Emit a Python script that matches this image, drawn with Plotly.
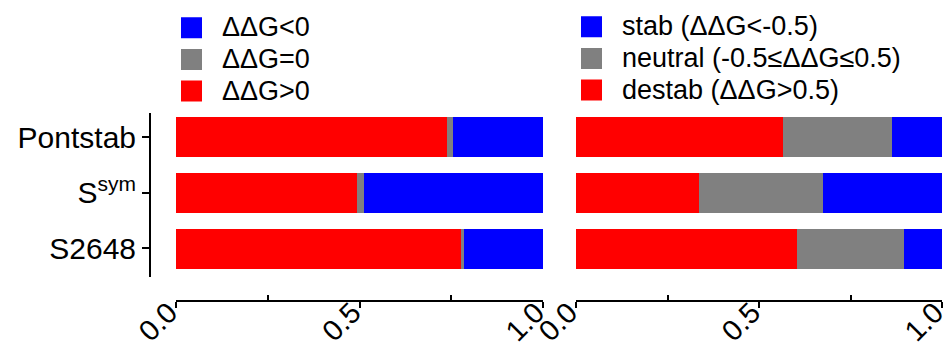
import plotly.graph_objects as go

# ---- data ----
categories = ["Pontstab", "S<sup>sym</sup>", "S2648"]
cat_pos = [0, 1, 2]

# left panel (sign of ddG)
left_pos = [0.738, 0.494, 0.777]    # ΔΔG>0
left_zero = [0.017, 0.017, 0.008]   # ΔΔG=0
left_neg = [0.245, 0.489, 0.215]    # ΔΔG<0

# right panel (0.5 threshold)
right_destab = [0.565, 0.335, 0.605]
right_neutral = [0.298, 0.340, 0.290]
right_stab = [0.137, 0.325, 0.105]

x_ticks = [0.0, 0.5, 1.0]
x_ticktext = ["0.0", "0.5", "1.0"]

left_names = ["ΔΔG<0", "ΔΔG=0", "ΔΔG>0"]
right_names = ["stab (ΔΔG<-0.5)", "neutral (-0.5≤ΔΔG≤0.5)", "destab (ΔΔG>0.5)"]

RED, GREY, BLUE = "#ff0000", "#808080", "#0000ff"
FONT = "Liberation Sans, Arial, sans-serif"
W, H = 948, 348
LEG_TXT = 27


def big(s):
    return '<span style="font-size:%dpx">%s</span>' % (LEG_TXT, s)


fig = go.Figure()

bar_w = 0.72
for vals, col in [(left_pos, RED), (left_zero, GREY), (left_neg, BLUE)]:
    fig.add_trace(go.Bar(y=cat_pos, x=vals, orientation="h", marker=dict(color=col, line=dict(width=0)),
                         width=bar_w, xaxis="x", yaxis="y", showlegend=False))
for vals, col in [(right_destab, RED), (right_neutral, GREY), (right_stab, BLUE)]:
    fig.add_trace(go.Bar(y=cat_pos, x=vals, orientation="h", marker=dict(color=col, line=dict(width=0)),
                         width=bar_w, xaxis="x2", yaxis="y2", showlegend=False))

# legend entries
for name, col in zip(left_names, [BLUE, GREY, RED]):
    fig.add_trace(go.Scatter(x=[None], y=[None], mode="markers", name=big(name), legend="legend",
                             marker=dict(symbol="square", size=16, color=col, line=dict(color=col, width=5)),
                             xaxis="x", yaxis="y"))
for name, col in zip(right_names, [BLUE, GREY, RED]):
    fig.add_trace(go.Scatter(x=[None], y=[None], mode="markers", name=big(name), legend="legend2",
                             marker=dict(symbol="square", size=16, color=col, line=dict(color=col, width=5)),
                             xaxis="x2", yaxis="y2"))

ydom = [1 - 276.7 / H, 1 - 112.7 / H]
yrange = [2.509, -0.437]
xpos = 1 - 301 / H

xcommon = dict(range=[0, 1], anchor="free", position=xpos, showline=True, linewidth=2, linecolor="black",
               ticks="outside", ticklen=6, tickwidth=2, tickcolor="black",
               tickvals=x_ticks, ticktext=x_ticktext, tickangle=-45,
               ticklabelstandoff=-24, ticklabelshift=-7, ticklabeloverflow="allow",
               tickfont=dict(family=FONT, size=29, color="black"),
               showgrid=False, zeroline=False, fixedrange=True, automargin=False,
               minor=dict(tickvals=[0.25, 0.75], ticks="inside", ticklen=5, tickwidth=2, tickcolor="black"))

fig.update_layout(
    width=W, height=H,
    margin=dict(l=0, r=0, t=0, b=0, autoexpand=False),
    paper_bgcolor="white", plot_bgcolor="white",
    barmode="stack", bargap=0,
    font=dict(family=FONT, color="black"),
    xaxis=dict(domain=[176 / W, 543 / W], **xcommon),
    xaxis2=dict(domain=[576 / W, 942 / W], **xcommon),
    yaxis=dict(domain=ydom, range=yrange, anchor="free", position=150 / W,
               showline=True, linewidth=2, linecolor="black",
               ticks="outside", ticklen=7, tickwidth=2, tickcolor="black",
               tickvals=cat_pos, ticktext=categories,
               tickfont=dict(family=FONT, size=30, color="black"),
               showgrid=False, zeroline=False, fixedrange=True, automargin=False),
    yaxis2=dict(domain=ydom, range=yrange, anchor="x2", showline=False, showticklabels=False,
                ticks="", showgrid=False, zeroline=False, fixedrange=True, automargin=False),
    legend=dict(x=161 / W, y=1 - 7 / H, xanchor="left", yanchor="top", bgcolor="rgba(0,0,0,0)",
                traceorder="normal", font=dict(family=FONT, size=22, color="black"),
                itemwidth=51, tracegroupgap=0),
    legend2=dict(x=561 / W, y=1 - 6 / H, xanchor="left", yanchor="top", bgcolor="rgba(0,0,0,0)",
                 traceorder="normal", font=dict(family=FONT, size=22, color="black"),
                 itemwidth=51, tracegroupgap=0),
)

fig.write_html("out.html")
